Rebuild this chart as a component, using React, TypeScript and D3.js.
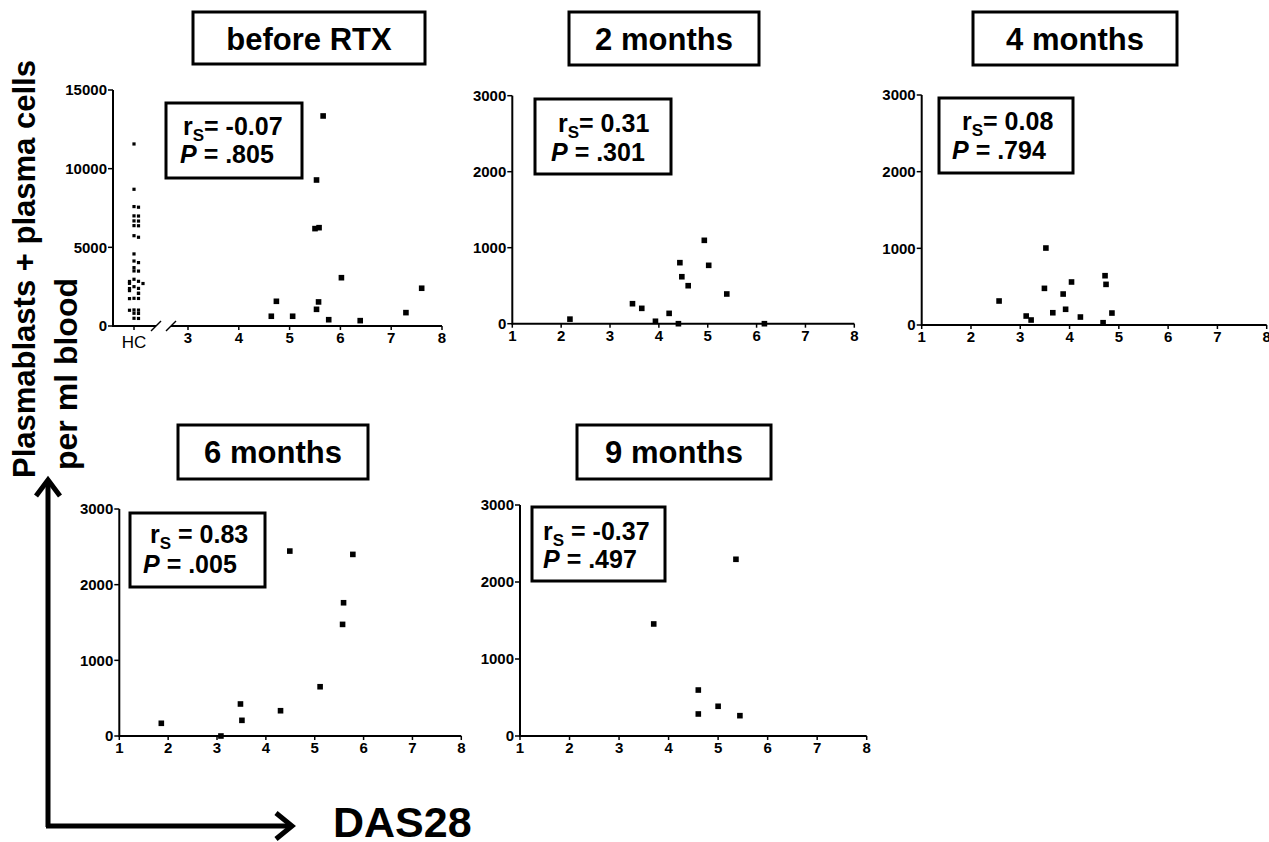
import React from "react";
import * as d3 from "d3";

// ---------- data ----------
const hcCells = [11570, 8690, 7590, 7550, 7000, 6990, 6680, 6670, 6380, 6370, 5740, 5640, 4580, 4130, 4030, 3710, 3500, 3490, 2970, 2840, 2830, 2710, 2700, 2500, 2390, 2380, 2250, 2080, 2070, 1760, 1750, 1740, 1020, 1010, 1000, 810, 800, 490, 480];
const beforeRtx = [[5.66, 13350], [5.53, 9280], [5.5, 6190], [5.58, 6250], [6.02, 3070], [7.6, 2400], [4.74, 1570], [5.57, 1530], [4.64, 620], [5.06, 620], [5.53, 1060], [5.77, 400], [6.39, 340], [7.29, 850]];
const month2 = [[2.18, 60], [3.46, 263], [3.65, 202], [3.93, 32], [4.21, 136], [4.4, 0], [4.43, 803], [4.47, 618], [4.6, 500], [4.93, 1097], [5.02, 768], [5.39, 391], [6.16, 0]];
const month4 = [[2.57, 313], [3.12, 117], [3.22, 65], [3.49, 478], [3.52, 1004], [3.66, 160], [3.87, 404], [3.92, 205], [4.04, 561], [4.22, 104], [4.68, 30], [4.72, 643], [4.74, 530], [4.86, 156]];
const month6 = [[1.86, 168], [3.08, 0], [3.48, 423], [3.51, 207], [4.3, 334], [4.49, 2444], [5.11, 651], [5.57, 1475], [5.59, 1761], [5.78, 2400]];
const month9 = [[3.7, 1455], [5.36, 2295], [4.6, 597], [4.6, 286], [5.0, 386], [5.44, 264]];

const titles = ["before RTX", "2 months", "4 months", "6 months", "9 months"];
const rsLabels = ["= -0.07", "= 0.31", "= 0.08", " = 0.83", " = -0.37"];
const pLabels = [" = .805", " = .301", " = .794", " = .005", " = .497"];
const yTicksBefore = [0, 5000, 10000, 15000];
const yTicksAfter = [0, 1000, 2000, 3000];
const xTicksBefore = [3, 4, 5, 6, 7, 8];
const xTicksAfter = [1, 2, 3, 4, 5, 6, 7, 8];

const FONT = "Arial, 'Liberation Sans', Helvetica, sans-serif";

type Panel = {
  data: number[][];
  xd: [number, number];
  xr: [number, number];
  yd: [number, number];
  yr: [number, number];
  axisX: number;
  xTicks: number[];
  yTicks: number[];
  title: [number, number, number, number];
  stat: [number, number, number, number];
  rsPos: [number, number];
  pPos: [number, number];
};

const panels: Panel[] = [
  { data: beforeRtx, xd: [3, 8], xr: [188, 442], yd: [0, 15000], yr: [326, 90], axisX: 113, xTicks: xTicksBefore, yTicks: yTicksBefore, title: [193, 12, 232, 52], stat: [166, 103, 136, 75], rsPos: [183, 135], pPos: [180, 163] },
  { data: month2, xd: [1, 8], xr: [512.3, 854.3], yd: [0, 3000], yr: [323.7, 95.7], axisX: 512.3, xTicks: xTicksAfter, yTicks: yTicksAfter, title: [569, 12, 190, 53], stat: [535, 99, 136, 75], rsPos: [558, 132], pPos: [551, 161] },
  { data: month4, xd: [1, 8], xr: [921.7, 1266.7], yd: [0, 3000], yr: [325, 95], axisX: 921.7, xTicks: xTicksAfter, yTicks: yTicksAfter, title: [973, 12, 204, 53], stat: [939, 98, 134, 75], rsPos: [962, 130], pPos: [952, 159] },
  { data: month6, xd: [1, 8], xr: [119.3, 461.3], yd: [0, 3000], yr: [736, 509], axisX: 119.3, xTicks: xTicksAfter, yTicks: yTicksAfter, title: [178, 425, 190, 54], stat: [130, 513, 135, 74], rsPos: [150, 543], pPos: [143, 573] },
  { data: month9, xd: [1, 8], xr: [520, 866.7], yd: [0, 3000], yr: [736, 505], axisX: 520, xTicks: xTicksAfter, yTicks: yTicksAfter, title: [577, 425, 194, 54], stat: [532, 507, 133, 74], rsPos: [543, 540], pPos: [543, 568] },
];

function hcOffsets(values: number[]): number[] {
  const pattern = [0, 4.5, -4.5, 9, -9];
  return values.map((v, i) => {
    let k = 0;
    for (let j = 0; j < i; j++) if (Math.abs(values[j] - v) < 180) k++;
    return pattern[k % pattern.length];
  });
}

function PanelView({ p, idx }: { p: Panel; idx: number }) {
  const x = d3.scaleLinear().domain(p.xd).range(p.xr);
  const y = d3.scaleLinear().domain(p.yd).range(p.yr);
  const y0 = y(0);
  const isBefore = idx === 0;
  const hcX = 134;
  const offs = isBefore ? hcOffsets(hcCells) : [];
  const sq = 5.6;
  const [tx, ty, tw, th] = p.title;
  const [sx, sy, sw, sh] = p.stat;
  return (
    <g>
      <rect x={tx} y={ty} width={tw} height={th} fill="white" stroke="black" strokeWidth={3} />
      <text x={tx + tw / 2} y={ty + 38} textAnchor="middle" fontFamily={FONT} fontWeight="bold" fontSize={31}>{titles[idx]}</text>
      <line x1={p.axisX} x2={p.axisX} y1={y(p.yd[1])} y2={y0 + 1} stroke="black" strokeWidth={2} />
      {p.yTicks.map((t) => (
        <g key={"y" + t}>
          <line x1={p.axisX - 5} x2={p.axisX} y1={y(t)} y2={y(t)} stroke="black" strokeWidth={1.5} />
          <text x={p.axisX - 6} y={y(t)} dy="0.35em" textAnchor="end" fontFamily={FONT} fontWeight="bold" fontSize={15}>{t}</text>
        </g>
      ))}
      {isBefore ? (
        <g>
          <line x1={p.axisX} x2={156} y1={y0} y2={y0} stroke="black" strokeWidth={2} />
          <line x1={171} x2={x(8)} y1={y0} y2={y0} stroke="black" strokeWidth={2} />
          <line x1={151} x2={161} y1={y0 + 5} y2={y0 - 5} stroke="black" strokeWidth={1.5} />
          <line x1={166} x2={176} y1={y0 + 5} y2={y0 - 5} stroke="black" strokeWidth={1.5} />
          <line x1={hcX} x2={hcX} y1={y0} y2={y0 + 4} stroke="black" strokeWidth={1.5} />
          <text x={hcX} y={y0 + 22} textAnchor="middle" fontFamily={FONT} fontSize={17}>HC</text>
        </g>
      ) : (
        <line x1={p.axisX} x2={x(8)} y1={y0} y2={y0} stroke="black" strokeWidth={2} />
      )}
      {p.xTicks.map((t) => (
        <g key={"x" + t}>
          <line x1={x(t)} x2={x(t)} y1={y0} y2={y0 + 4} stroke="black" strokeWidth={1.5} />
          <text x={x(t)} y={y0 + 17} textAnchor="middle" fontFamily={FONT} fontWeight="bold" fontSize={15}>{t}</text>
        </g>
      ))}
      {isBefore && hcCells.map((v, i) => (
        <rect key={"hc" + i} x={hcX + offs[i] - 1.6} y={y(v) - 1.6} width={3.2} height={3.2} fill="black" />
      ))}
      {p.data.map((d, i) => (
        <rect key={"p" + i} x={x(d[0]) - sq / 2} y={y(d[1]) - sq / 2} width={sq} height={sq} fill="black" />
      ))}
      <rect x={sx} y={sy} width={sw} height={sh} fill="white" stroke="black" strokeWidth={3} />
      <text x={p.rsPos[0]} y={p.rsPos[1]} fontFamily={FONT} fontWeight="bold" fontSize={25}>
        r<tspan fontSize={17} dy={6}>S</tspan><tspan dy={-6}>{rsLabels[idx]}</tspan>
      </text>
      <text x={p.pPos[0]} y={p.pPos[1]} fontFamily={FONT} fontWeight="bold" fontSize={25}>
        <tspan fontStyle="italic">P</tspan>{pLabels[idx]}
      </text>
    </g>
  );
}

export default function App() {
  return (
    <svg width={1269} height={842} viewBox="0 0 1269 842" style={{ position: "absolute", left: 0, top: 0, background: "white" }}>
      <rect x={0} y={0} width={1269} height={842} fill="white" />
      {panels.map((p, i) => (
        <PanelView key={i} p={p} idx={i} />
      ))}
      <text transform="translate(35,478) rotate(-90)" fontFamily={FONT} fontWeight="bold" fontSize={31}>Plasmablasts + plasma cells</text>
      <text transform="translate(77,470) rotate(-90)" fontFamily={FONT} fontWeight="bold" fontSize={32}>per ml blood</text>
      <path d="M48,827 L48,481" stroke="black" strokeWidth={5} fill="none" />
      <path d="M36,496 L48,480 L60,496" stroke="black" strokeWidth={5} fill="none" strokeLinejoin="miter" />
      <path d="M46,826 L290,826" stroke="black" strokeWidth={5} fill="none" />
      <path d="M276,813 L292,826 L276,839" stroke="black" strokeWidth={5} fill="none" strokeLinejoin="miter" />
      <text x={333} y={837} fontFamily={FONT} fontWeight="bold" fontSize={43}>DAS28</text>
    </svg>
  );
}
